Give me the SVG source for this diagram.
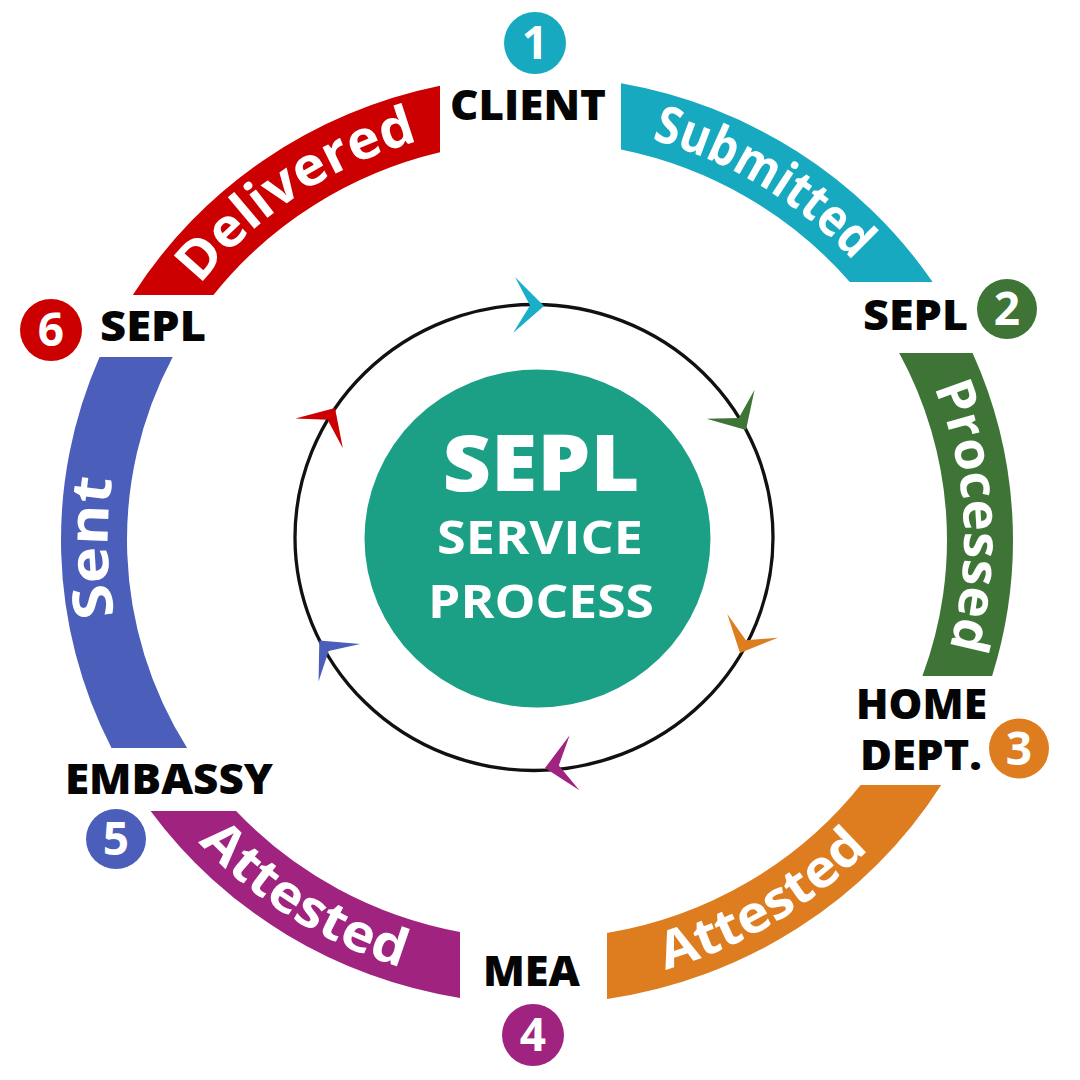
<svg xmlns="http://www.w3.org/2000/svg" xmlns:xlink="http://www.w3.org/1999/xlink" width="1080" height="1080" viewBox="0 0 1080 1080">
  <style>
    .lbl { font-family: "Open Sans", "Liberation Sans", sans-serif; font-weight: 800; font-size: 42px; fill: #050505; text-anchor: middle; }
    .num { font-family: "Open Sans", "Liberation Sans", sans-serif; font-weight: 700; font-size: 46px; fill: #ffffff; text-anchor: middle; }
    .arc { font-family: "Open Sans", "Liberation Sans", sans-serif; font-weight: 700; font-size: 52px; fill: #ffffff; text-anchor: middle; }
    .ctr { font-family: "Open Sans", "Liberation Sans", sans-serif; fill: #ffffff; text-anchor: middle; }
    .ring { fill: none; stroke: #111111; stroke-width: 3.3; }
  </style>
  <defs>
    <path id="ah" d="M0,0 L-30,-28 L-14,0 L-30,28 Z"/>
    <path id="p-sub" d="M550.4,124.7 A427,415.5 0 0 1 913.3,343.6"/>
    <path id="p-pro" d="M894.1,312.2 A427,415.5 0 0 1 918.3,727"/>
    <path id="p-att1" d="M548.2,987.4 A459,447.5 0 0 0 940,754.2"/>
    <path id="p-att2" d="M129.9,746.6 A459,447.5 0 0 0 517,987.1"/>
    <path id="p-sent" d="M169,754 A425,413.5 0 0 1 161.5,338.6"/>
    <path id="p-del" d="M152.4,359.5 A427,415.5 0 0 1 505.4,125.6"/>
  </defs>
  <rect width="1080" height="1080" fill="#ffffff"/>

  <g id="connectors">
    <g id="seg-submitted">
      <path d="M621,83.3 A476,464 0 0 1 932.6,282 L849.8,282 A410,399 0 0 0 621,149.5 Z" fill="#16A9BF"/>
      <text class="arc"><textPath href="#p-sub" xlink:href="#p-sub" startOffset="50%" textLength="238" lengthAdjust="spacingAndGlyphs">Submitted</textPath></text>
    </g>
    <g id="seg-processed">
      <path d="M972.6,353 A476,464 0 0 1 992.1,676 L922.4,676 A410,399 0 0 0 899.2,353 Z" fill="#3E7537"/>
      <text class="arc"><textPath href="#p-pro" xlink:href="#p-pro" startOffset="50%" textLength="266" lengthAdjust="spacingAndGlyphs">Processed</textPath></text>
    </g>
    <g id="seg-attested-1">
      <path d="M941.2,785 A476,464 0 0 1 607,999 L607,933.1 A410,399 0 0 0 860.6,785 Z" fill="#DE7D1F"/>
      <text class="arc"><textPath href="#p-att1" xlink:href="#p-att1" startOffset="50%" textLength="239" lengthAdjust="spacingAndGlyphs">Attested</textPath></text>
    </g>
    <g id="seg-attested-2">
      <path d="M460,997.9 A476,464 0 0 1 150.6,811 L236.1,811 A410,399 0 0 0 460,931.9 Z" fill="#A02380"/>
      <text class="arc"><textPath href="#p-att2" xlink:href="#p-att2" startOffset="50%" textLength="241" lengthAdjust="spacingAndGlyphs">Attested</textPath></text>
    </g>
    <g id="seg-sent">
      <path d="M111.5,748 A476,464 0 0 1 99.6,357 L172.7,357 A410,399 0 0 0 187.1,748 Z" fill="#4A5EBA"/>
      <text class="arc" style="font-size:55px"><textPath href="#p-sent" xlink:href="#p-sent" startOffset="50%" textLength="138" lengthAdjust="spacingAndGlyphs">Sent</textPath></text>
    </g>
    <g id="seg-delivered">
      <path d="M132.8,295 A476,464 0 0 1 440,85.7 L440,152.3 A410,399 0 0 0 213.4,295 Z" fill="#CC0000"/>
      <text class="arc" style="font-size:54px"><textPath href="#p-del" xlink:href="#p-del" startOffset="50%" textLength="266" lengthAdjust="spacingAndGlyphs">Delivered</textPath></text>
    </g>
    <g id="inner-cycle">
      <ellipse class="ring" cx="534" cy="537.5" rx="239" ry="233"/>
      <use href="#ah" xlink:href="#ah" fill="#1AAFC8" transform="translate(544,306) rotate(2)"/>
      <use href="#ah" xlink:href="#ah" fill="#3E7537" transform="translate(746,430) rotate(59)"/>
      <use href="#ah" xlink:href="#ah" fill="#DE7D1F" transform="translate(740,653) rotate(115)"/>
      <use href="#ah" xlink:href="#ah" fill="#A02380" transform="translate(545,768) rotate(170)"/>
      <use href="#ah" xlink:href="#ah" fill="#4A5EBA" transform="translate(319.3,640.5) rotate(-132)"/>
      <use href="#ah" xlink:href="#ah" fill="#CC0000" transform="translate(335,408) rotate(-58)"/>
    </g>
  </g>

  <g id="node-center">
    <ellipse cx="537.5" cy="538.6" rx="173" ry="169" fill="#1BA086"/>
    <text class="ctr" x="541" y="491" font-size="78" font-weight="800" textLength="197" lengthAdjust="spacingAndGlyphs">SEPL</text>
    <text class="ctr" x="540" y="554" font-size="47" font-weight="700" textLength="206" lengthAdjust="spacingAndGlyphs">SERVICE</text>
    <text class="ctr" x="541" y="618" font-size="47" font-weight="700" textLength="226" lengthAdjust="spacingAndGlyphs">PROCESS</text>
  </g>

  <g id="node-client">
    <circle cx="535" cy="43" r="31" fill="#16A9BF"/>
    <text class="num" x="535" y="59">1</text>
    <text class="lbl" x="528" y="120" textLength="156" lengthAdjust="spacingAndGlyphs">CLIENT</text>
  </g>
  <g id="node-sepl-2">
    <circle cx="1007" cy="309" r="30" fill="#3E7537"/>
    <text class="num" x="1007" y="325">2</text>
    <text class="lbl" x="915.5" y="330" textLength="105" lengthAdjust="spacingAndGlyphs">SEPL</text>
  </g>
  <g id="node-home-dept">
    <circle cx="1019" cy="748.5" r="30" fill="#DE7D1F"/>
    <text class="num" x="1019" y="764.5">3</text>
    <text class="lbl" x="921.5" y="719" textLength="131" lengthAdjust="spacingAndGlyphs">HOME</text>
    <text class="lbl" x="921" y="770" textLength="122" lengthAdjust="spacingAndGlyphs">DEPT.</text>
  </g>
  <g id="node-mea">
    <circle cx="533" cy="1035" r="31" fill="#A02380"/>
    <text class="num" x="533" y="1051">4</text>
    <text class="lbl" x="531.5" y="986" textLength="97" lengthAdjust="spacingAndGlyphs">MEA</text>
  </g>
  <g id="node-embassy">
    <circle cx="116" cy="839" r="30" fill="#4A5EBA"/>
    <text class="num" x="116" y="855">5</text>
    <text class="lbl" x="169" y="794" textLength="208" lengthAdjust="spacingAndGlyphs">EMBASSY</text>
  </g>
  <g id="node-sepl-6">
    <circle cx="51" cy="330" r="31" fill="#CC0000"/>
    <text class="num" x="51" y="346">6</text>
    <text class="lbl" x="153" y="341" textLength="106" lengthAdjust="spacingAndGlyphs">SEPL</text>
  </g>
</svg>
